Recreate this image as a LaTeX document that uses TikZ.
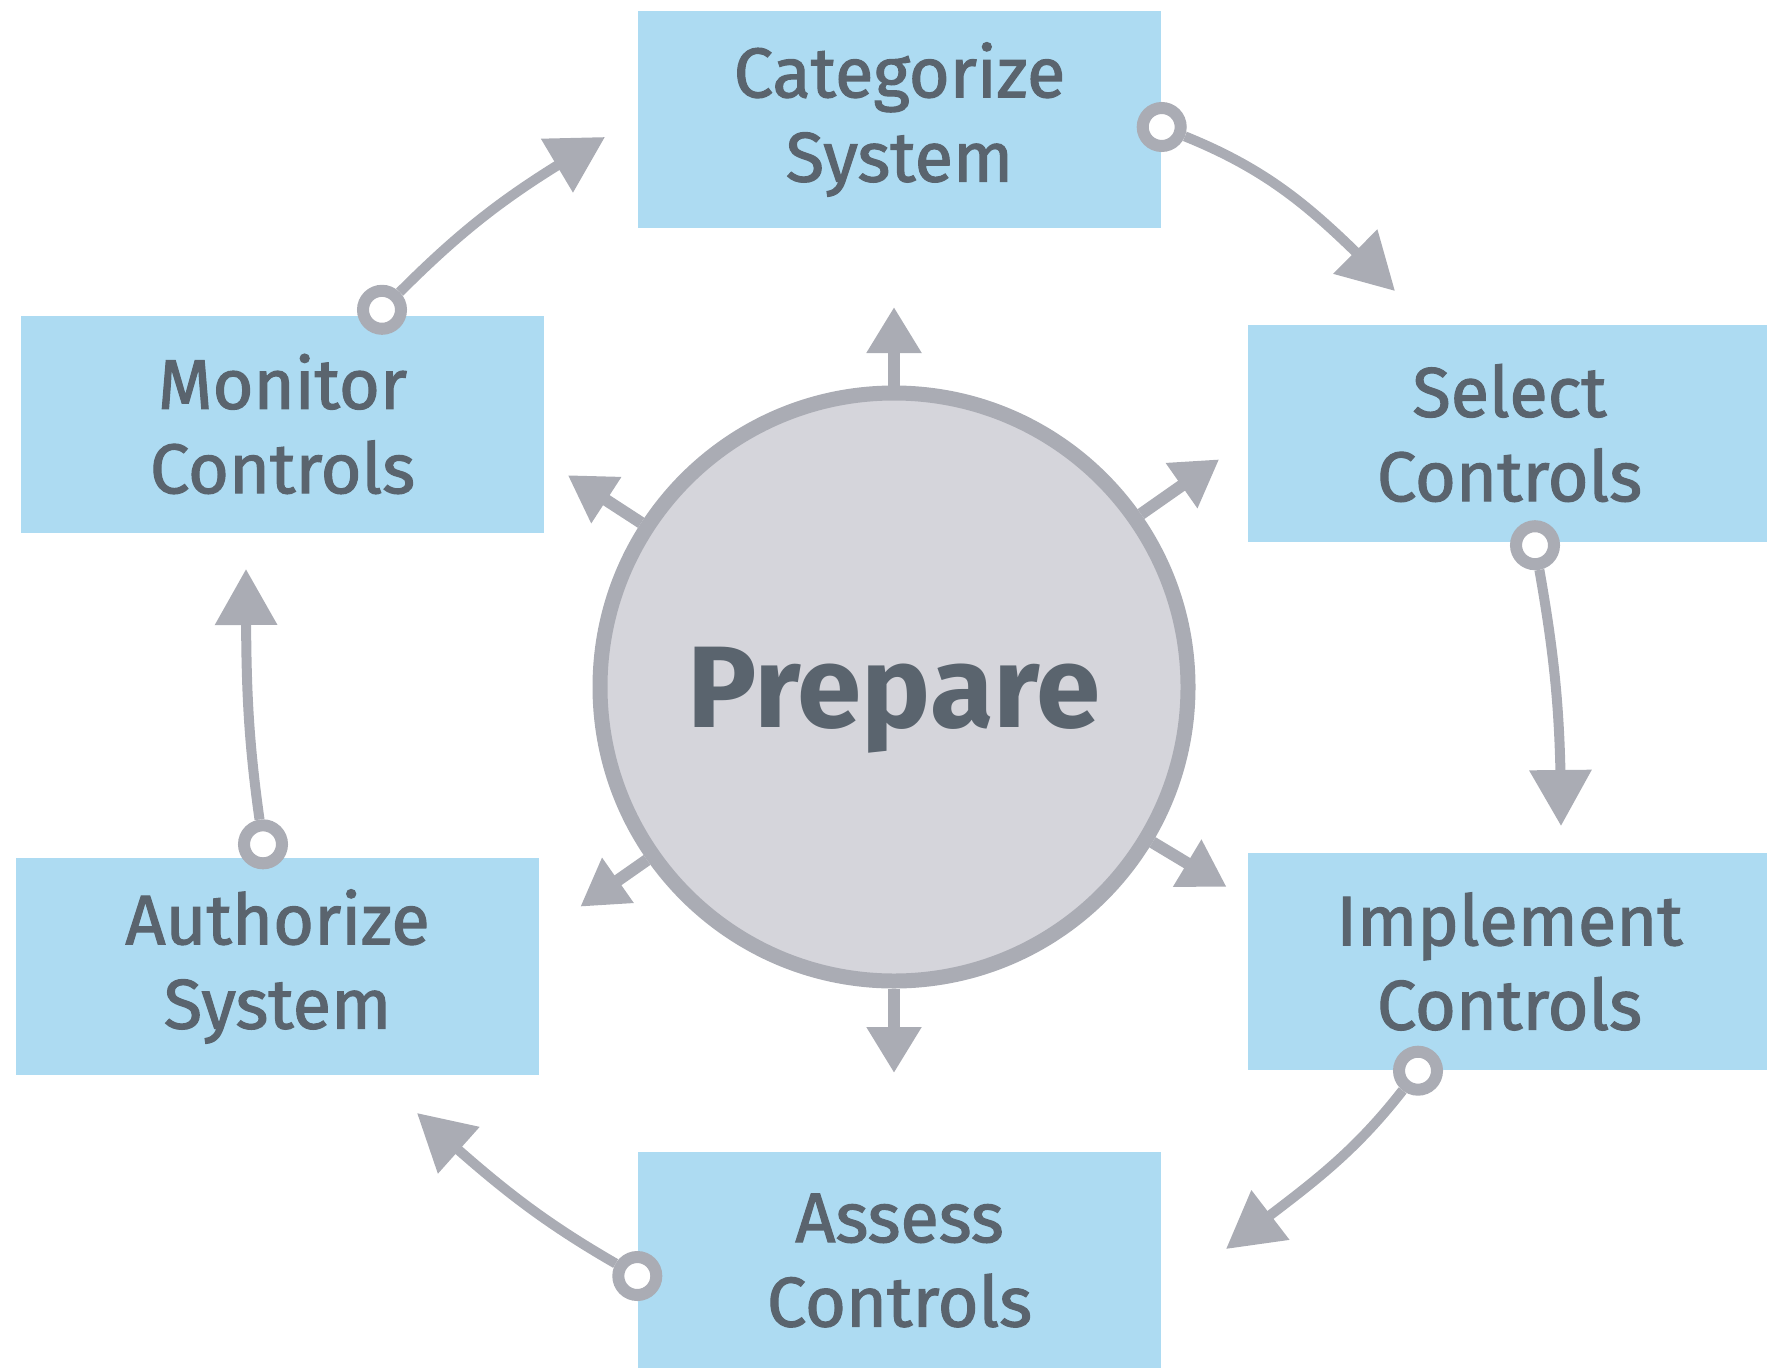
\documentclass[tikz,border=0pt]{standalone}
\usepackage{fontspec}
\setmainfont{Fira Sans}
\newfontfamily\stepfont{Fira Sans}[RawFeature={embolden=1.6}]
\usetikzlibrary{arrows.meta, bending, positioning, calc}
\definecolor{rmfblue}{RGB}{173,219,242}
\definecolor{rmfgray}{RGB}{170,172,180}
\definecolor{rmfhub}{RGB}{213,213,219}
\definecolor{rmftext}{RGB}{90,100,110}

\begin{document}
\begin{tikzpicture}[
  stepbox/.style={fill=rmfblue, minimum width=5.23cm, minimum height=2.17cm, inner sep=0pt, align=center, text=rmftext, font=\stepfont\fontsize{20}{24}\selectfont},
  hub/.style={circle, draw=rmfgray, fill=rmfhub, line width=0.15cm, minimum size=5.88cm, inner sep=0pt, text depth=0pt, text=rmftext, font=\fontsize{33}{36}\selectfont\bfseries},
  ring/.style={circle, draw=rmfgray, fill=white, line width=0.12cm, minimum size=0.38cm, inner sep=0pt},
  flow/.style={-{Triangle[length=0.56cm, width=0.6cm]}, line width=0.1cm, draw=rmfgray},
  spoke/.style={-{Triangle[length=0.46cm, width=0.52cm]}, line width=0.12cm, draw=rmfgray}
]
\useasboundingbox (0,0) rectangle (17.67,13.67);

% centre
\node[hub] (prep) at (8.94,6.80) {Prepare};
\foreach \a/\r in {90/3.80, 35/3.97, 147/3.89, -31/3.88, -90/3.86, -145/3.83} {
  \coordinate (s\a) at ($(prep.center)+(\a:\r)$);
  \draw[spoke] (prep.\a) -- (s\a);
}

% steps
\node[stepbox] (cat) at (8.995,12.475) {Categorize\\System};
\node[stepbox] (sel) at (15.095,9.34) {Select\\Controls};
\node[stepbox] (imp) at (15.095,4.055) {Implement\\Controls};
\node[stepbox] (ass) at (8.995,1.065) {Assess\\Controls};
\node[stepbox] (auth) at (2.775,4.005) {Authorize\\System};
\node[stepbox] (mon) at (2.825,9.43) {Monitor\\Controls};

% cycle
\node[ring] (r1) at ([yshift=-0.075cm]cat.east) {};
\node[ring] (r2) at ([xshift=0.255cm, yshift=-0.03cm]sel.south) {};
\node[ring] (r3) at ([xshift=-0.915cm]imp.south) {};
\node[ring] (r4) at ([yshift=-0.155cm]ass.west) {};
\node[ring] (r5) at ([xshift=-0.145cm, yshift=0.13cm]auth.north) {};
\node[ring] (r6) at ([xshift=0.995cm, yshift=0.05cm]mon.north) {};

\coordinate (t1) at (13.95,10.76);
\coordinate (t2) at (15.61,5.41);
\coordinate (t3) at (12.26,1.18);
\coordinate (t4) at (4.17,2.54);
\coordinate (t5) at (2.46,7.98);
\coordinate (t6) at (6.05,12.30);

\draw[flow] (r1) to[out=-22, in=135] (t1);
\draw[flow] (r2) to[out=-80, in=90] (t2);
\draw[flow] (r3) to[out=-128, in=38] (t3);
\draw[flow] (r4) to[out=150, in=-42] (t4);
\draw[flow] (r5) to[out=98, in=-90] (t5);
\draw[flow] (r6) to[out=45, in=-150] (t6);
\end{tikzpicture}
\end{document}
